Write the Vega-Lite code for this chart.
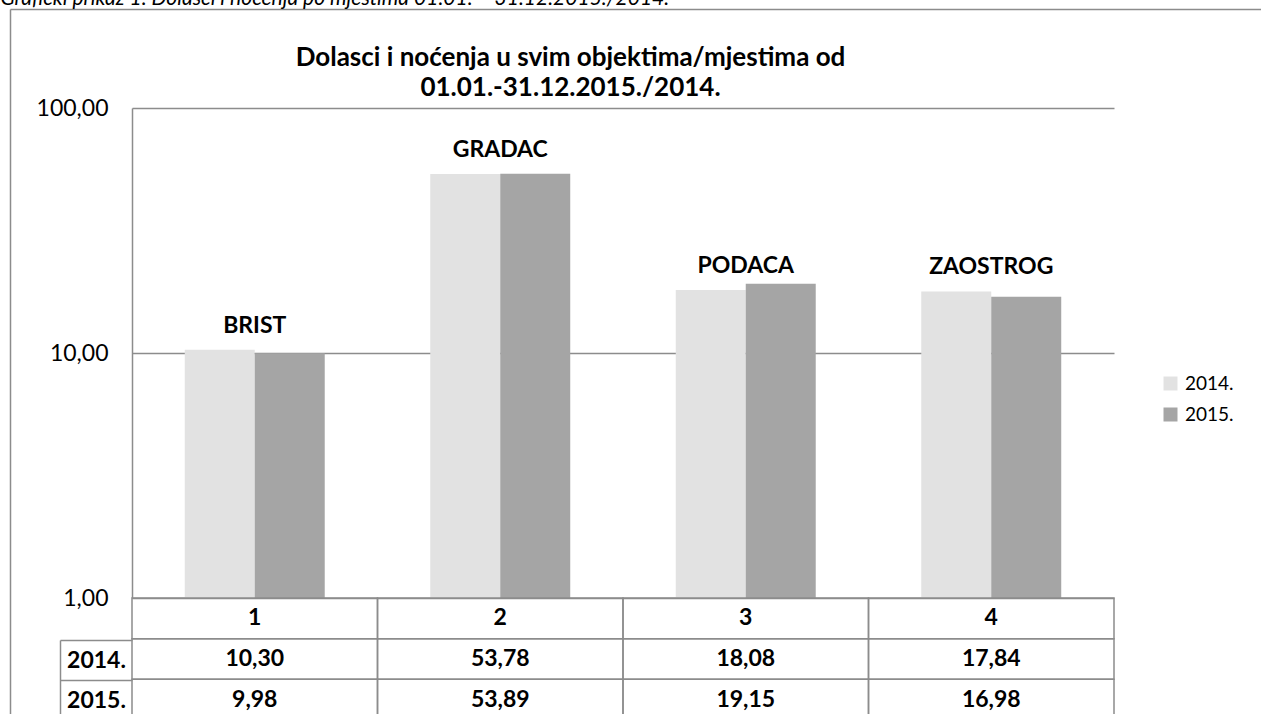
{
  "$schema": "https://vega.github.io/schema/vega-lite/v6.json",
  "autosize": {"type": "none"},
  "padding": {"left": 10, "top": 9, "right": -6, "bottom": -10},
  "background": "white",
  "width": 1257,
  "height": 715,
  "config": {
    "font": "Lato",
    "locale": {"number": {"decimal": ",", "thousands": ".", "grouping": [3], "currency": ["", " €"]}},
    "view": {"stroke": null},
    "axis": {"labelColor": "#000000", "labelFont": "Lato", "titleColor": "#000000", "titleFont": "Lato"},
    "text": {"color": "#000000"}
  },
  "layer": [
    {
      "data": {
        "values": [
          {"cat": "1", "name": "BRIST", "year": "2014.", "value": 10.30},
          {"cat": "1", "name": "BRIST", "year": "2015.", "value": 9.98},
          {"cat": "2", "name": "GRADAC", "year": "2014.", "value": 53.78},
          {"cat": "2", "name": "GRADAC", "year": "2015.", "value": 53.89},
          {"cat": "3", "name": "PODACA", "year": "2014.", "value": 18.08},
          {"cat": "3", "name": "PODACA", "year": "2015.", "value": 19.15},
          {"cat": "4", "name": "ZAOSTROG", "year": "2014.", "value": 17.84},
          {"cat": "4", "name": "ZAOSTROG", "year": "2015.", "value": 16.98}
        ]
      },
      "layer": [
        {
          "layer": [
            {
              "mark": {"type": "bar"},
              "encoding": {
                "x": {"field": "cat", "type": "nominal", "scale": {"domain": ["1", "2", "3", "4"], "range": [122, 1104], "paddingInner": 0, "paddingOuter": 0}, "axis": null},
                "xOffset": {"field": "year", "type": "nominal", "scale": {"domain": ["2014.", "2015."], "paddingInner": 0, "paddingOuter": 0.754}},
                "y": {
                  "field": "value", "type": "quantitative",
                  "scale": {"type": "log", "domain": [1, 100], "range": [589, 99]},
                  "axis": {
                    "orient": "left", "offset": -122, "values": [1, 10, 100], "format": ".2f",
                    "ticks": false, "labelPadding": 24, "labelFontSize": 23,
                    "domainColor": "#8c8c8c", "domainWidth": 1.5,
                    "grid": true, "gridColor": "#8c8c8c", "gridWidth": 1.5,
                    "title": ["Dolasci i noćenja u svim objektima/mjestima od", "01.01.-31.12.2015./2014."],
                    "titleAngle": 0, "titleAlign": "center", "titleBaseline": "top",
                    "titleX": 438, "titleY": 35, "titleFontSize": 26, "titleFontWeight": "bold", "titleLineHeight": 30
                  }
                },
                "y2": {"datum": 1},
                "color": {
                  "field": "year", "type": "nominal",
                  "scale": {"domain": ["2014.", "2015."], "range": ["#e2e2e2", "#a5a5a5"]},
                  "legend": {
                    "orient": "none", "legendX": 1151, "legendY": 365, "title": null,
                    "symbolType": "square", "symbolSize": 196, "symbolStrokeWidth": 0,
                    "labelFontSize": 19, "labelColor": "#000000", "rowPadding": 11, "labelOffset": 5
                  }
                }
              }
            },
            {
              "transform": [{"filter": "datum.year == '2014.'"}],
              "mark": {"type": "text", "dy": -24, "fontWeight": "bold", "fontSize": 23, "baseline": "middle"},
              "encoding": {
                "x": {"field": "cat", "type": "nominal"},
                "y": {"field": "value", "type": "quantitative"},
                "text": {"field": "name"}
              }
            }
          ]
        },
        {
          "layer": [
            {
              "data": {"values": [{"cat": "1"}, {"cat": "2"}, {"cat": "3"}, {"cat": "4"}]},
              "mark": {"type": "rect", "fillOpacity": 0, "stroke": "#8c8c8c", "strokeWidth": 1.5},
              "encoding": {
                "x": {"field": "cat", "type": "nominal"},
                "y": {
                  "datum": "hdr", "type": "nominal",
                  "scale": {"type": "band", "domain": ["hdr", "2014.", "2015."], "range": [589, 711], "paddingInner": 0, "paddingOuter": 0},
                  "axis": {
                    "orient": "left", "offset": 0, "domain": false, "ticks": false, "labels": false, "grid": false,
                    "title": "Grafički prikaz 1. Dolasci i noćenja po mjestima 01.01. – 31.12.2015./2014.",
                    "titleAngle": 0, "titleAlign": "left", "titleBaseline": "alphabetic",
                    "titleX": -10, "titleY": -5, "titleFontSize": 21, "titleFontWeight": "normal", "titleFontStyle": "italic"
                  }
                }
              }
            },
            {
              "data": {"values": [{"cat": "1"}, {"cat": "2"}, {"cat": "3"}, {"cat": "4"}]},
              "mark": {"type": "text", "fontWeight": "bold", "fontSize": 23, "baseline": "middle"},
              "encoding": {
                "x": {"field": "cat", "type": "nominal"},
                "y": {"datum": "hdr", "type": "nominal"},
                "text": {"field": "cat"}
              }
            },
            {
              "mark": {"type": "rect", "fillOpacity": 0, "stroke": "#8c8c8c", "strokeWidth": 1.5},
              "encoding": {
                "x": {"field": "cat", "type": "nominal"},
                "y": {"field": "year", "type": "nominal"}
              }
            },
            {
              "mark": {"type": "text", "fontWeight": "bold", "fontSize": 23, "baseline": "middle"},
              "encoding": {
                "x": {"field": "cat", "type": "nominal"},
                "y": {"field": "year", "type": "nominal"},
                "text": {"field": "value", "type": "quantitative", "format": ".2f"}
              }
            }
          ]
        },
        {
          "data": {"values": [{"year": "2014."}, {"year": "2015."}]},
          "mark": {"type": "rule", "opacity": 0},
          "encoding": {
            "y": {
              "field": "year", "type": "nominal",
              "scale": {"type": "band", "domain": ["2014.", "2015."], "range": [631, 711], "paddingInner": 0, "paddingOuter": 0},
              "axis": {
                "orient": "left", "offset": -50, "tickBand": "extent", "tickSize": -72,
                "labelPadding": 36, "labelAlign": "center", "labelBaseline": "middle",
                "labelFontWeight": "bold", "labelFontSize": 23, "labelAngle": 0, "title": null,
                "domainColor": "#8c8c8c", "domainWidth": 1.5, "tickColor": "#8c8c8c", "tickWidth": 1.5
              }
            }
          }
        }
      ],
      "resolve": {"scale": {"y": "independent"}, "axis": {"y": "independent"}}
    },
    {
      "data": {"values": [{"frame": 0}]},
      "mark": {"type": "rule", "opacity": 0},
      "encoding": {
        "x": {
          "field": "frame", "type": "quantitative",
          "scale": {"domain": [0, 1], "range": [0, 1251], "nice": false, "zero": false},
          "axis": {"orient": "top", "offset": 0, "domain": true, "ticks": false, "labels": false, "grid": false, "title": null, "domainColor": "#8c8c8c", "domainWidth": 1.5}
        },
        "y": {
          "field": "frame", "type": "quantitative",
          "scale": {"domain": [0, 1], "range": [0, 715], "nice": false, "zero": false},
          "axis": {"orient": "left", "offset": 0, "domain": true, "ticks": false, "labels": false, "grid": false, "title": null, "domainColor": "#8c8c8c", "domainWidth": 1.5}
        }
      }
    }
  ],
  "resolve": {"scale": {"x": "independent", "y": "independent"}, "axis": {"x": "independent", "y": "independent"}}
}
